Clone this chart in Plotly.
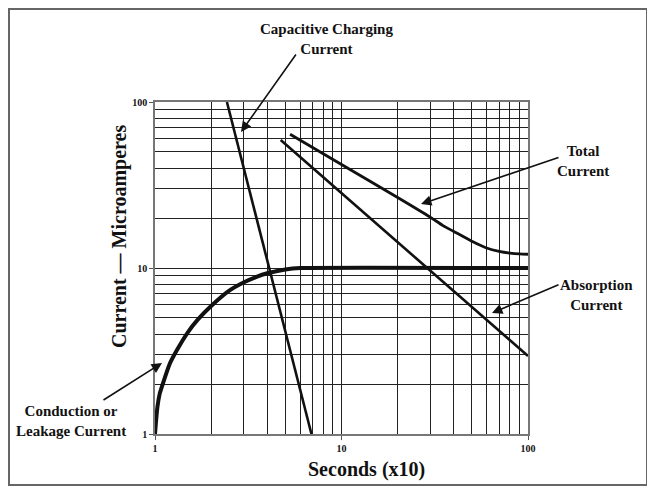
import plotly.graph_objects as go

# ---- data ----
cap_x = [2.43, 6.9]
cap_y = [100, 1]

abs_x = [4.72, 100]
abs_y = [59, 2.95]

tot_x = [5.3, 10, 20, 30, 35, 40, 50, 60, 70, 80, 90, 100]
tot_y = [64, 42, 26.6, 20.2, 18.0, 16.6, 14.5, 13.2, 12.6, 12.3, 12.15, 12.1]

cond_x = [1, 1.01, 1.03, 1.06, 1.1, 1.2, 1.3, 1.5, 1.7, 2, 2.5, 3, 3.5, 4, 5, 6, 100]
cond_y = [1, 1.15, 1.45, 1.75, 2.0, 2.65, 3.15, 4.1, 4.9, 5.9, 7.3, 8.2, 8.85, 9.3, 9.8, 10, 10]

tick_vals = [1, 10, 100]
tick_text = ["1", "10", "100"]
minor_vals = [2, 3, 4, 5, 6, 7, 8, 9, 20, 30, 40, 50, 60, 70, 80, 90]

FONT = "Liberation Serif"

fig = go.Figure()
line_black = "#111111"
fig.add_trace(go.Scatter(x=cap_x, y=cap_y, mode="lines", line=dict(color=line_black, width=2.6)))
fig.add_trace(go.Scatter(x=abs_x, y=abs_y, mode="lines", line=dict(color=line_black, width=2.6)))
fig.add_trace(go.Scatter(x=tot_x, y=tot_y, mode="lines", line=dict(color=line_black, width=2.8, shape="spline", smoothing=0.6)))
fig.add_trace(go.Scatter(x=cond_x, y=cond_y, mode="lines", line=dict(color=line_black, width=4, shape="spline", smoothing=0.4)))

OFF = 8  # page body margin
W, H = 655 - OFF, 491 - OFF
L, R, T, B = 155 - OFF, 528 - OFF, 102 - OFF, 434 - OFF

def px(x):  # page x -> paper
    return (x - OFF - L) / (R - L)

def py(y):  # page y -> paper
    return (B - (y - OFF)) / (B - T)

axis_common = dict(
    type="log", range=[0, 2], tickvals=tick_vals, ticktext=tick_text,
    showgrid=True, gridcolor="#222222", gridwidth=1,
    ticks="outside", ticklen=4, tickcolor="#555555",
    showline=True, linecolor="#777777", linewidth=1.5, mirror=True,
    tickfont=dict(family=FONT, size=10, color="#111111", weight="bold"),
    minor=dict(tickvals=minor_vals, showgrid=True, gridcolor="#222222", gridwidth=1, ticks=""),
    zeroline=False, fixedrange=True,
)

fig.update_layout(
    width=W, height=H,
    margin=dict(l=L, r=W - R, t=T, b=H - B),
    paper_bgcolor="white", plot_bgcolor="white",
    showlegend=False,
    xaxis=axis_common,
    yaxis=axis_common,
)

# outer border
fig.add_shape(type="rect", xref="paper", yref="paper",
              x0=px(9), x1=px(647), y0=py(485), y1=py(9),
              line=dict(color="#666666", width=2), fillcolor="rgba(0,0,0,0)", layer="below")

def label(text, cx, cy, size=15, angle=0):
    fig.add_annotation(xref="paper", yref="paper", x=px(cx), y=py(cy), text=text,
                       showarrow=False, align="center", xanchor="center", yanchor="middle",
                       textangle=angle,
                       font=dict(family=FONT, size=size, color="#111111", weight="bold"))

def arrow(x0, y0, x1, y1):
    fig.add_annotation(xref="paper", yref="paper", x=px(x1), y=py(y1),
                       axref="pixel", ayref="pixel", ax=x0 - x1, ay=y0 - y1,
                       text="", showarrow=True, arrowhead=2, arrowsize=1.3,
                       arrowwidth=1.6, arrowcolor="#111111")

# axis titles
label("<b>Seconds (x10)</b>", 366, 469, size=20)
label("<b>Current — Microamperes</b>", 120, 237, size=20, angle=-90)

label("<b>Capacitive Charging<br>Current</b>", 326, 39)
arrow(297, 53, 241, 132)
label("<b>Total<br>Current</b>", 583, 161)
arrow(560, 157, 421, 204)
label("<b>Absorption<br>Current</b>", 596, 295)
arrow(560, 284, 492, 313)
label("<b>Conduction or<br>Leakage Current</b>", 71, 421)
arrow(102, 401, 162, 363)

fig.write_html("out.html")
